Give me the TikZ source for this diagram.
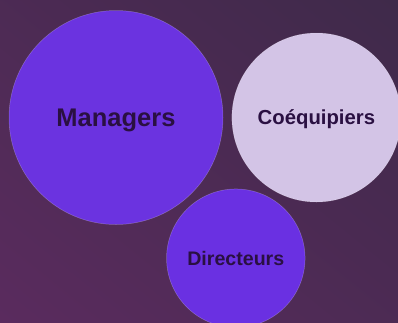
\documentclass[tikz,border=0pt]{standalone}
\usepackage{fontspec}
\setmainfont{Liberation Sans}
\usetikzlibrary{shadings}
\definecolor{bgtr}{HTML}{3F2A4A}
\definecolor{bgbl}{HTML}{5A2B5E}
\definecolor{violet}{HTML}{6B33E0}
\definecolor{violetb}{HTML}{6A30E2}
\definecolor{lilac}{HTML}{D3C4E6}
\definecolor{ink}{HTML}{2A1042}
\tikzset{
  bubble/.style={circle, inner sep=0pt, draw=white, draw opacity=0.25, line width=0.5pt, text=ink, text depth=0pt, font=\bfseries},
}
\begin{document}
\begin{tikzpicture}[x=1pt,y=-1pt]
\useasboundingbox (0,0) rectangle (398,322);
\shade[lower left=bgbl, upper right=bgtr, lower right=bgtr!50!bgbl, upper left=bgtr!50!bgbl] (0,0) rectangle (398,322);
\begin{scope}
\clip (0,0) rectangle (398,322);
\node[bubble, fill=violet, minimum size=214pt, font=\bfseries\fontsize{25.5}{28}\selectfont] (m) at (116,117.5) {Managers};
\node[bubble, fill=lilac, minimum size=169pt, font=\bfseries\fontsize{20.3}{23}\selectfont] (c) at (316.4,117.5) {Coéquipiers};
\node[bubble, fill=violetb, minimum size=138.5pt, font=\bfseries\fontsize{19.6}{22}\selectfont] (d) at (235.8,258.2) {Directeurs};
\end{scope}
\end{tikzpicture}
\end{document}
